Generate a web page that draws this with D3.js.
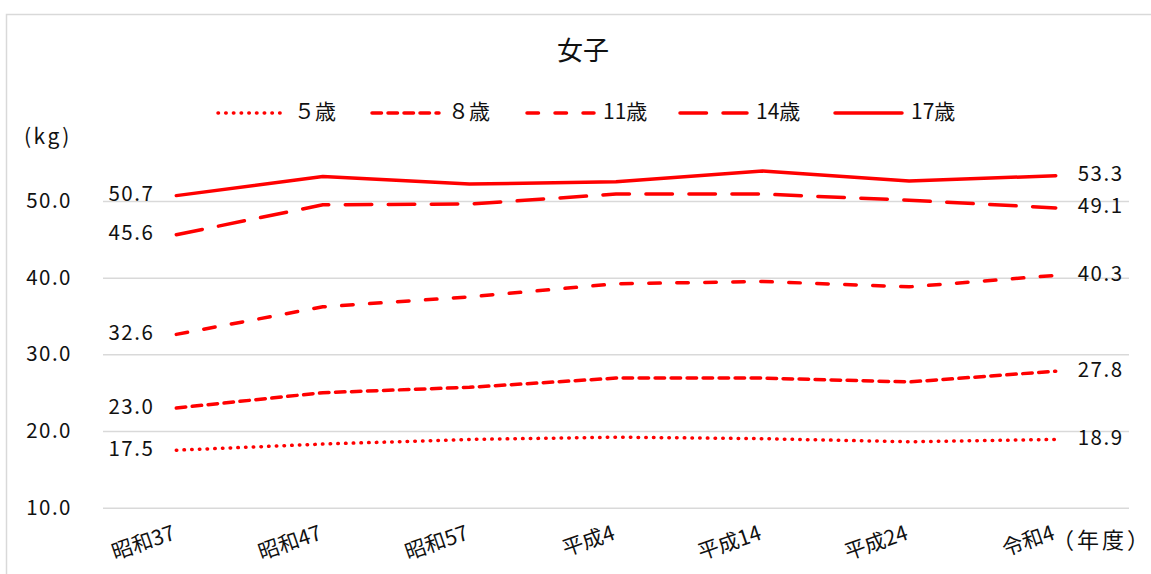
<!DOCTYPE html>
<html><head><meta charset="utf-8">
<script src="https://cdn.jsdelivr.net/npm/d3@7"></script>
<style>
html,body{margin:0;padding:0;background:#fff;}
svg{display:block;}
text{font-family:"Noto Sans CJK JP","Noto Sans",sans-serif;fill:#111;}
</style></head>
<body>
<script>
const title = "女子";
const categories = ["昭和37","昭和47","昭和57","平成4","平成14","平成24","令和4"];
const seriesNames = ["５歳","８歳","11歳","14歳","17歳"];
const s5  = [17.5, 18.3, 18.9, 19.2, 19.0, 18.6, 18.9];
const s8  = [23.0, 25.0, 25.7, 26.9, 26.9, 26.4, 27.8];
const s11 = [32.6, 36.2, 37.5, 39.2, 39.5, 38.8, 40.3];
const s14 = [45.6, 49.5, 49.6, 50.9, 50.9, 50.1, 49.1];
const s17 = [50.7, 53.2, 52.2, 52.5, 53.9, 52.6, 53.3];
const yTicks = [10, 20, 30, 40, 50];
const yUnit = "(kg)";
const xUnit = "（年度）";

const allSeries = [s5, s8, s11, s14, s17];
const dashes = ["0.5 7.2", "9.5 6.5", "11.5 16.5", "26.5 16.5", null];

const W = 1151, H = 574;
const svg = d3.select("body").append("svg").attr("width", W).attr("height", H);

svg.append("rect").attr("x", 6.5).attr("y", 14.5).attr("width", 1200).attr("height", 700)
  .attr("fill", "#fff").attr("stroke", "#d9d9d9").attr("stroke-width", 1.5);

const x = d3.scaleBand().domain(categories).range([103, 1129]);
const cx = c => x(c) + x.bandwidth() / 2;
const y = d3.scaleLinear().domain([10, 60]).range([507.7, 124.3]);

// grid
const yAxis = d3.axisLeft(y).tickValues(yTicks).tickSize(-(1129 - 103)).tickFormat(d3.format(".1f"));
const ga = svg.append("g").attr("transform", "translate(103,0)").call(yAxis);
ga.select(".domain").remove();
ga.selectAll(".tick line").attr("stroke", "#d9d9d9").attr("stroke-width", 1.5);
ga.selectAll(".tick text").attr("x", -31).attr("font-size", 20.5).attr("letter-spacing", 1.5)
  .style("font-family", '"Noto Sans CJK JP"').attr("fill", "#111");

svg.append("text").attr("x", 24).attr("y", 138).attr("dominant-baseline", "middle")
  .attr("font-size", 21).attr("letter-spacing", 2.5).text(yUnit);

// x labels
const xAxis = d3.axisBottom(x).tickSize(0).tickPadding(0);
const gx = svg.append("g").attr("transform", "translate(0,507.7)").call(xAxis);
gx.select(".domain").remove();
gx.selectAll(".tick text")
  .attr("text-anchor", "end").attr("font-size", 21).attr("fill", "#111")
  .attr("y", 0).attr("dy", 0)
  .attr("transform", "translate(-6,13) rotate(-19)")
  .attr("dominant-baseline", "hanging")
  .style("font-family", '"Noto Sans CJK JP"');

svg.append("text").attr("x", 1052).attr("y", 542).attr("dominant-baseline", "middle")
  .attr("font-size", 22).attr("letter-spacing", 3).text(xUnit);

// lines
const line = d3.line().x((d, i) => cx(categories[i])).y(d => y(d));
allSeries.forEach((s, k) => {
  const p = svg.append("path").datum(s).attr("d", line).attr("fill", "none")
    .attr("stroke", "#ff0000").attr("stroke-width", 3.5).attr("stroke-linecap", "round")
    .attr("stroke-linejoin", "round");
  if (dashes[k]) p.attr("stroke-dasharray", dashes[k]);
  // labels
  svg.append("text").attr("x", cx(categories[0]) - 22).attr("y", y(s[0]))
    .attr("text-anchor", "end").attr("dominant-baseline", "middle")
    .attr("font-size", 20.5).attr("letter-spacing", 1.5).text(s[0].toFixed(1));
  svg.append("text").attr("x", cx(categories[6]) + 22).attr("y", y(s[6]))
    .attr("text-anchor", "start").attr("dominant-baseline", "middle")
    .attr("font-size", 20.5).attr("letter-spacing", 1.5).text(s[6].toFixed(1));
});

// title
svg.append("text").attr("x", 583).attr("y", 53).attr("text-anchor", "middle")
  .attr("dominant-baseline", "middle").attr("font-size", 26).text(title);

// legend
const legX = [218, 372, 527, 680, 835];
const legend = svg.append("g");
seriesNames.forEach((n, k) => {
  const l = legend.append("line").attr("x1", legX[k]).attr("x2", legX[k] + 67)
    .attr("y1", 113).attr("y2", 113).attr("stroke", "#ff0000").attr("stroke-width", 3.5)
    .attr("stroke-linecap", "round");
  if (dashes[k]) l.attr("stroke-dasharray", dashes[k]);
  legend.append("text").attr("x", legX[k] + 76).attr("y", 113).attr("dominant-baseline", "middle")
    .attr("font-size", 21).text(n);
});
</script>
</body></html>
